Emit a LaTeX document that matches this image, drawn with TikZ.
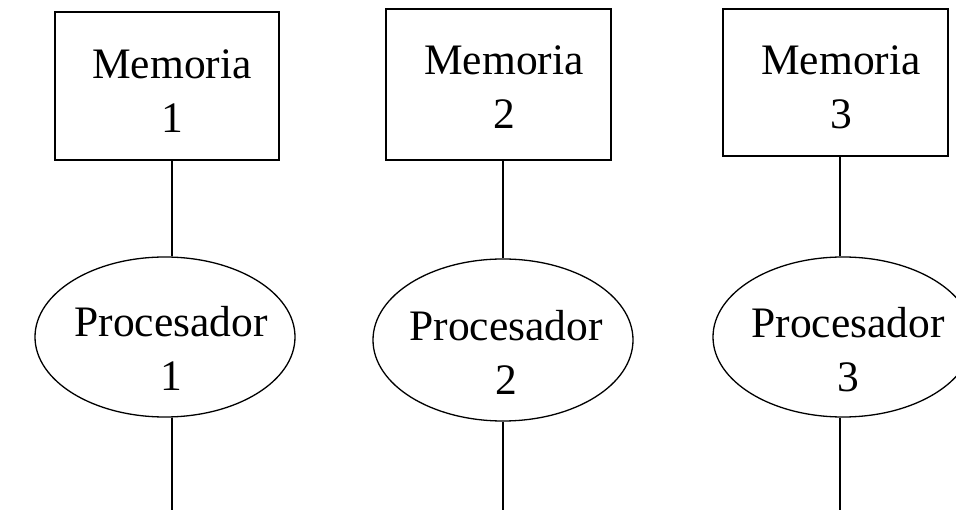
\documentclass[tikz,border=0pt]{standalone}
\usepackage{fontspec}
\setmainfont{Liberation Serif}
\usetikzlibrary{shapes.geometric}
\tikzset{
  membox/.style={draw=black, line width=1.5pt, rectangle, inner sep=0pt},
  procell/.style={draw=black, line width=1.3pt, ellipse, inner sep=0pt},
  lbl/.style={align=center, inner sep=0pt, font=\fontsize{43.5}{54}\selectfont},
  wire/.style={draw=black, line width=1.5pt}
}
\begin{document}
\begin{tikzpicture}[x=1pt,y=-1pt]
\useasboundingbox (0,0) rectangle (956,510);
% memory boxes
\node[membox, minimum width=224pt, minimum height=148pt] (m1) at (167,86) {};
\node[membox, minimum width=225pt, minimum height=151pt] (m2) at (498.5,84.5) {};
\node[membox, minimum width=225pt, minimum height=147pt] (m3) at (835.5,82.5) {};
\node[lbl] (tm1) at (172,91) {Memoria\\1};
\node[lbl] (tm2) at (504,87) {Memoria\\2};
\node[lbl] (tm3) at (841,87) {Memoria\\3};
% processors
\node[procell, minimum width=260pt, minimum height=160pt] (p1) at (165,337) {};
\node[procell, minimum width=260pt, minimum height=162pt] (p2) at (503,340) {};
\node[procell, minimum width=260pt, minimum height=160pt] (p3) at (843,337) {};
\node[lbl] (tp1) at (171,348) {Procesador\\1};
\node[lbl] (tp2) at (506,352) {Procesador\\2};
\node[lbl] (tp3) at (848,350) {Procesador\\3};
% free ends at the bottom
\coordinate (b1) at (172,510);
\coordinate (b2) at (503,510);
\coordinate (b3) at (840,510);
% connectors
\draw[wire] (m1.south -| b1) -- (p1.north -| b1);
\draw[wire] (m2.south -| b2) -- (p2.north -| b2);
\draw[wire] (m3.south -| b3) -- (p3.north -| b3);
\draw[wire] (p1.south -| b1) -- (b1);
\draw[wire] (p2.south -| b2) -- (b2);
\draw[wire] (p3.south -| b3) -- (b3);
\end{tikzpicture}
\end{document}
